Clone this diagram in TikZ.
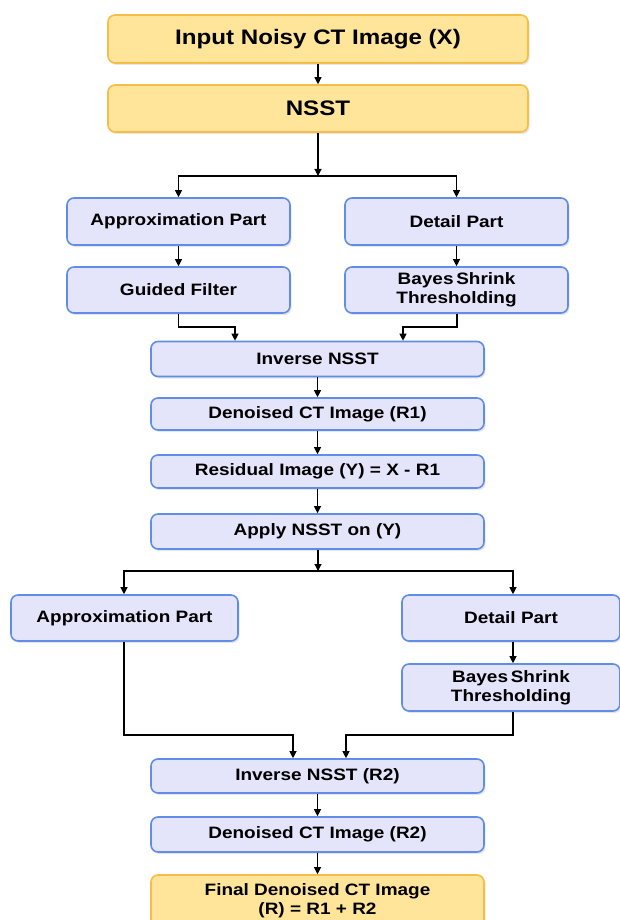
\documentclass[tikz,border=0pt]{standalone}
\usepackage{fontspec}
\setmainfont[FakeStretch=1.15]{Liberation Sans}
\usetikzlibrary{arrows.meta,shadows}
\definecolor{bluefill}{RGB}{228,228,250}
\definecolor{blueline}{RGB}{96,142,230}
\definecolor{yelfill}{RGB}{255,229,153}
\definecolor{yelline}{RGB}{246,190,72}
\begin{document}
\begin{tikzpicture}[x=1pt,y=-1pt,
  bluebox/.style={draw=blueline,fill=bluefill,line width=1.6pt,rounded corners=7pt,
    align=center,font=\bfseries\fontsize{16.5}{19}\selectfont,inner sep=0pt,
    drop shadow={shadow xshift=1.5pt,shadow yshift=-2pt,opacity=0.2}},
  yelbox/.style={bluebox,draw=yelline,fill=yelfill},
  arr/.style={-{Triangle[length=7pt,width=7pt]},line width=1.1pt}]
\useasboundingbox (0,0) rectangle (619,920);

% Top: input and NSST
\node[yelbox,minimum width=420,minimum height=48,font=\bfseries\fontsize{21}{24}\selectfont] (input) at (318,39) {Input Noisy CT Image (X)};
\node[yelbox,minimum width=420,minimum height=47,font=\bfseries\fontsize{21}{24}\selectfont] (nsst) at (318,108.5) {NSST};

% First decomposition
\node[bluebox,minimum width=223,minimum height=47] (approxA) at (178.5,221.5) {Approximation Part};
\node[bluebox,minimum width=223,minimum height=47] (detailA) at (456.5,221.5) {Detail Part};
\node[bluebox,minimum width=223,minimum height=46] (guided) at (178.5,290) {Guided Filter};
\node[bluebox,minimum width=223,minimum height=46] (bayesA) at (456.5,290) {Bayes\,Shrink\\Thresholding};

% Middle column
\node[bluebox,minimum width=333,minimum height=35] (invA) at (317.5,359) {Inverse NSST};
\node[bluebox,minimum width=333,minimum height=32] (denA) at (317.5,414) {Denoised CT Image (R1)};
\node[bluebox,minimum width=333,minimum height=33] (resid) at (317.5,471.5) {Residual Image (Y) = X - R1};
\node[bluebox,minimum width=333,minimum height=35] (apply) at (317.5,531.5) {Apply NSST on (Y)};

% Second decomposition
\node[bluebox,minimum width=227,minimum height=46] (approxB) at (124.5,618) {Approximation Part};
\node[bluebox,minimum width=218,minimum height=46] (detailB) at (511,618) {Detail Part};
\node[bluebox,minimum width=218,minimum height=47] (bayesB) at (511,687.5) {Bayes\,Shrink\\Thresholding};

% Bottom column
\node[bluebox,minimum width=333,minimum height=34] (invB) at (317.5,776) {Inverse NSST (R2)};
\node[bluebox,minimum width=333,minimum height=35] (denB) at (317.5,834.5) {Denoised CT Image (R2)};
\node[yelbox,minimum width=333,minimum height=52] (final) at (317.5,901) {Final Denoised CT Image\\(R) = R1 + R2};

% Junctions
\coordinate (splitA) at (318,176);
\coordinate (mergeA1) at (235,327);
\coordinate (mergeA2) at (403,327);
\coordinate (splitB) at (318,571);
\coordinate (mergeB1) at (293,735);
\coordinate (mergeB2) at (346,735);

% Connectors
\draw[arr] (input) -- (nsst);
\draw[arr] (nsst) -- (splitA);
\draw[arr] (splitA) -| (approxA);
\draw[arr] (splitA) -| (detailA);
\draw[arr] (approxA) -- (guided);
\draw[arr] (detailA) -- (bayesA);
\draw[arr] (guided.south) |- (mergeA1) -- (mergeA1 |- invA.north);
\draw[arr] (bayesA.south -| 457,0) |- (mergeA2) -- (mergeA2 |- invA.north);
\draw[arr] (invA) -- (denA);
\draw[arr] (denA) -- (resid);
\draw[arr] (resid) -- (apply);
\draw[arr] (apply.south -| splitB) -- (splitB);
\draw[arr] (splitB) -| (approxB.north -| 124,0);
\draw[arr] (splitB) -| (detailB.north -| 513,0);
\draw[arr] (detailB.south -| 513,0) -- (bayesB.north -| 513,0);
\draw[arr] (approxB.south -| 124,0) |- (mergeB1) -- (mergeB1 |- invB.north);
\draw[arr] (bayesB.south -| 513,0) |- (mergeB2) -- (mergeB2 |- invB.north);
\draw[arr] (invB) -- (denB);
\draw[arr] (denB) -- (final);
\end{tikzpicture}
\end{document}
